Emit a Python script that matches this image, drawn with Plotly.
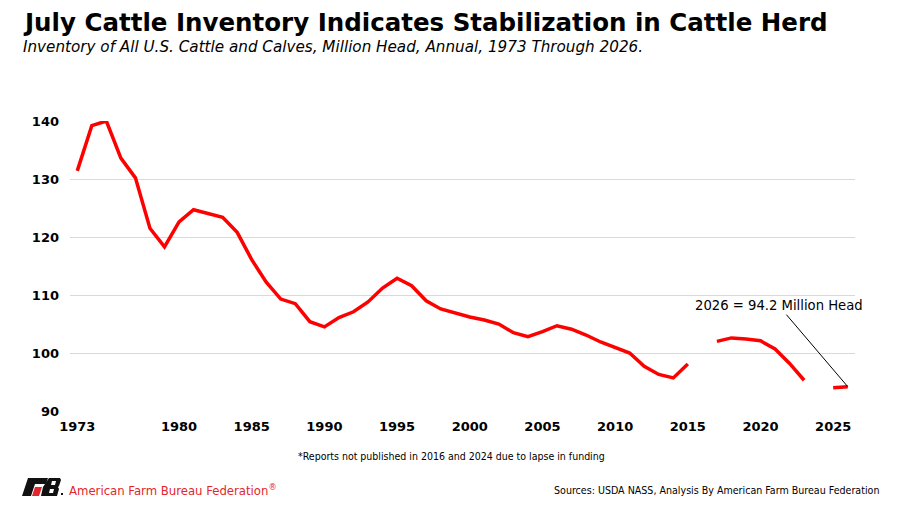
import plotly.graph_objects as go

years = list(range(1973, 2027))
inventory = [131.4, 139.2, 140.0, 133.6, 130.2, 121.5, 118.3, 122.6, 124.7, 124.0,
             123.4, 120.8, 116.1, 112.2, 109.3, 108.5, 105.4, 104.5, 106.1, 107.1,
             108.8, 111.2, 112.9, 111.6, 109.0, 107.6, 106.9, 106.2, 105.7, 105.0,
             103.5, 102.8, 103.7, 104.7, 104.1, 103.1, 101.9, 101.0, 100.0, 97.7,
             96.3, 95.7, 98.1, None, 102.0, 102.6, 102.4, 102.1, 100.7, 98.2,
             95.3, None, 94.0, 94.2]
xtick_vals = [1973, 1980, 1985, 1990, 1995, 2000, 2005, 2010, 2015, 2020, 2025]
ytick_vals = [90, 100, 110, 120, 130, 140]

OFF = 8  # page body offset
W, H = 900 - OFF, 506 - OFF
L, R, T, B = 70 - OFF, 45, 121 - OFF, 95
PW, PH = W - L - R, H - T - B

# screen pixel -> paper coords
def px(x):
    return (x - OFF - L) / PW

def py(y):
    return (H - B - (y - OFF)) / PH

fig = go.Figure()
fig.add_trace(go.Scatter(x=years, y=inventory, mode="lines",
                         line=dict(color="#FF0000", width=3.5),
                         connectgaps=False, hoverinfo="skip"))

tick_font = dict(family="DejaVu Sans", size=13, color="#000000")

fig.update_layout(
    width=W, height=H,
    margin=dict(l=L, r=R, t=T, b=B),
    paper_bgcolor="white", plot_bgcolor="white",
    showlegend=False,
    xaxis=dict(range=[1972.5, 2026.5], tickvals=xtick_vals,
               ticktext=["<b>%d</b>" % v for v in xtick_vals],
               showgrid=False, zeroline=False, showline=False,
               ticks="", tickfont=tick_font, ticklabelstandoff=6),
    yaxis=dict(range=[90, 140], tickvals=ytick_vals,
               ticktext=["<b>%d</b>" % v for v in ytick_vals],
               showgrid=True, gridcolor="#D9D9D9", gridwidth=1,
               zeroline=False, showline=False, ticks="",
               ticklabelstandoff=10, tickfont=tick_font),
)

# title and subtitle
fig.add_annotation(text="<b>July Cattle Inventory Indicates Stabilization in Cattle Herd</b>",
                   xref="paper", yref="paper", x=px(21), y=py(22.5), xanchor="left", yanchor="middle",
                   showarrow=False, font=dict(family="DejaVu Sans", size=24.5, color="#000000"))
fig.add_annotation(text="<i>Inventory of All U.S. Cattle and Calves, Million Head, Annual, 1973 Through 2026.</i>",
                   xref="paper", yref="paper", x=px(21), y=py(47), xanchor="left", yanchor="middle",
                   showarrow=False, font=dict(family="DejaVu Sans", size=15.2, color="#000000"))

# annotation for 2026
fig.add_annotation(text="2026 = 94.2 Million Head", x=2026, y=94.2, xref="x", yref="y",
                   showarrow=True, arrowhead=0, arrowwidth=1, arrowcolor="#000000",
                   ax=-69, ay=-81, standoff=0,
                   font=dict(family="DejaVu Sans", size=13.2, color="#000000"))

# footnote
fig.add_annotation(text="*Reports not published in 2016 and 2024 due to lapse in funding",
                   xref="paper", yref="paper", x=px(451), y=py(456), xanchor="center", yanchor="middle",
                   showarrow=False, font=dict(family="DejaVu Sans Condensed", size=10.5, color="#000000"))
# sources
fig.add_annotation(text="Sources: USDA NASS, Analysis By American Farm Bureau Federation",
                   xref="paper", yref="paper", x=px(881), y=py(490), xanchor="right", yanchor="middle",
                   showarrow=False, font=dict(family="DejaVu Sans Condensed", size=10.6, color="#000000"))
# brand
fig.add_annotation(text="American Farm Bureau Federation<sup>®</sup>",
                   xref="paper", yref="paper", x=px(67), y=py(490), xanchor="left", yanchor="middle",
                   showarrow=False, font=dict(family="DejaVu Sans Condensed", size=13, color="#E3262B"))

def poly(pts):
    return "M " + " L ".join("%f,%f" % (px(a), py(b)) for a, b in pts) + " Z"

# logo: F
fig.add_shape(type="path", xref="paper", yref="paper",
              path=poly([(28, 478), (48, 478), (46, 484), (35, 484), (34, 487), (31, 496), (22, 496)]),
              fillcolor="#111111", line=dict(width=0))
fig.add_shape(type="path", xref="paper", yref="paper",
              path=poly([(35, 487), (42, 487), (39, 496), (32, 496)]),
              fillcolor="#E3262B", line=dict(width=0))
# logo: B
fig.add_shape(type="path", xref="paper", yref="paper",
              path=poly([(49, 478), (60, 478), (61, 480), (59, 486), (58, 487), (59, 489), (57, 496), (41, 496), (43, 487)]),
              fillcolor="#111111", line=dict(width=0))
fig.add_shape(type="path", xref="paper", yref="paper",
              path=poly([(52, 481), (56, 481), (55, 485), (51, 485)]),
              fillcolor="white", line=dict(width=0))
fig.add_shape(type="path", xref="paper", yref="paper",
              path=poly([(50, 489), (54, 489), (53, 493), (49, 493)]),
              fillcolor="white", line=dict(width=0))
fig.add_shape(type="path", xref="paper", yref="paper",
              path=poly([(61, 493), (63, 493), (63, 495), (61, 495)]),
              fillcolor="#111111", line=dict(width=0))

fig.write_html("out.html")
